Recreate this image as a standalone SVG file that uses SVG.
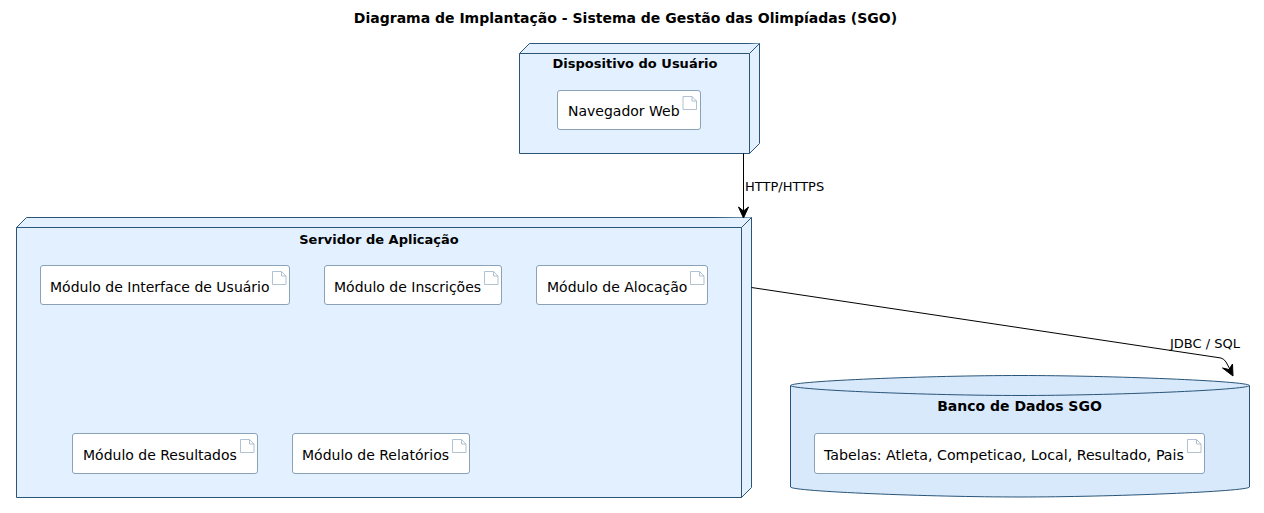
<svg xmlns="http://www.w3.org/2000/svg" width="1264" height="513" viewBox="0 0 1264 513">
<style>
text{font-family:"DejaVu Sans",sans-serif;fill:#000}
.t{font-size:13px;font-weight:bold;text-anchor:middle}
.l{font-size:14px}
.e{font-size:13px}
.n{fill:#e3f0ff;stroke:#2a5578;stroke-width:1}
.db{fill:#d8e9fc;stroke:#2a5578;stroke-width:1}
.a{fill:#fff;stroke:#8aa2b8;stroke-width:1}
.i{fill:#fff;stroke:#9fb2c4;stroke-width:.8}
.c{fill:none;stroke:#000;stroke-width:1}
</style>
<rect width="1264" height="513" fill="#fff"/>
<text class="t" x="625.500" y="23" style="font-size:14px">Diagrama de Implantação - Sistema de Gestão das Olimpíadas (SGO)</text>

<g id="dispositivo">
<path class="n" d="M519.500 53.500L529.500 43.500H759.500V143.500L749.500 153.500H519.500Z"/>
<path class="n" d="M519.500 53.500H749.500L759.500 43.500M749.500 53.500V153.500"/>
<text class="t" x="635" y="68">Dispositivo do Usuário</text>
</g>
<g id="navegador">
<rect class="a" x="557.500" y="90.500" width="143" height="39" rx="2.500"/>
<text class="l" x="568" y="116">Navegador Web</text>
<path class="i" d="M683 96.500h9l4.500 4.500v8.500H683ZM692 96.500v4.500h4.500"/>
</g>

<g id="servidor">
<path class="n" d="M16.500 227.500L26.500 217.500H751.500V487.500L741.500 497.500H16.500Z"/>
<path class="n" d="M16.500 227.500H741.500L751.500 217.500M741.500 227.500V497.500"/>
<text class="t" x="379" y="244">Servidor de Aplicação</text>
</g>
<g id="interface">
<rect class="a" x="40.500" y="265.500" width="249" height="39" rx="2.500"/>
<text class="l" x="50" y="292">Módulo de Interface de Usuário</text>
<path class="i" d="M272.500 271.500h9l4.500 4.500v8.500H272.500ZM281.500 271.500v4.500h4.500"/>
</g>
<g id="inscricoes">
<rect class="a" x="324.500" y="265.500" width="177" height="39" rx="2.500"/>
<text class="l" x="334" y="292">Módulo de Inscrições</text>
<path class="i" d="M484.500 271.500h9l4.500 4.500v8.500H484.500ZM493.500 271.500v4.500h4.500"/>
</g>
<g id="alocacao">
<rect class="a" x="536.500" y="265.500" width="171" height="39" rx="2.500"/>
<text class="l" x="547" y="292">Módulo de Alocação</text>
<path class="i" d="M690.500 271.500h9l4.500 4.500v8.500H690.500ZM699.500 271.500v4.500h4.500"/>
</g>
<g id="resultados">
<rect class="a" x="72.500" y="433.500" width="185" height="40" rx="2.500"/>
<text class="l" x="83" y="460">Módulo de Resultados</text>
<path class="i" d="M240.500 439.500h9l4.500 4.500v8.500H240.500ZM249.500 439.500v4.500h4.500"/>
</g>
<g id="relatorios">
<rect class="a" x="292.500" y="433.500" width="177" height="40" rx="2.500"/>
<text class="l" x="302" y="460">Módulo de Relatórios</text>
<path class="i" d="M452.500 439.500h9l4.500 4.500v8.500H452.500ZM461.500 439.500v4.500h4.500"/>
</g>

<g id="banco">
<path class="db" d="M790.500 385.500C792 381 930 375.500 1020 375.500S1248 381 1249.500 385.500V487C1248 491.500 1110 497 1020 497S792 491.500 790.500 487Z"/>
<path class="db" d="M790.500 385.500C792 390 930 395.500 1020 395.500S1248 390 1249.500 385.500"/>
<text class="t" x="1019.500" y="411" style="font-size:14px">Banco de Dados SGO</text>
</g>
<g id="tabelas">
<rect class="a" x="814.500" y="433.500" width="390" height="40" rx="2.500"/>
<text class="l" x="824" y="460" style="font-size:14.2px">Tabelas: Atleta, Competicao, Local, Resultado, Pais</text>
<path class="i" d="M1187.500 439.500h9l4.500 4.500v8.500H1187.500ZM1196.500 439.500v4.500h4.500"/>
</g>

<g id="connectors">
<path class="c" d="M743.500 153.500V215"/>
<path d="M743.500 218L738.500 207L743.500 211L748.500 207Z" fill="#000" stroke="#000"/>
<text class="e" x="745" y="191">HTTP/HTTPS</text>
<path class="c" d="M751.500 287.500L1221 358Q1224 358.800 1226 362L1232 373"/>
<path d="M1233 376L1222.500 368L1229 369.500L1232.500 364Z" fill="#000" stroke="#000"/>
<text class="e" x="1170" y="348">JDBC / SQL</text>
</g>
</svg>
